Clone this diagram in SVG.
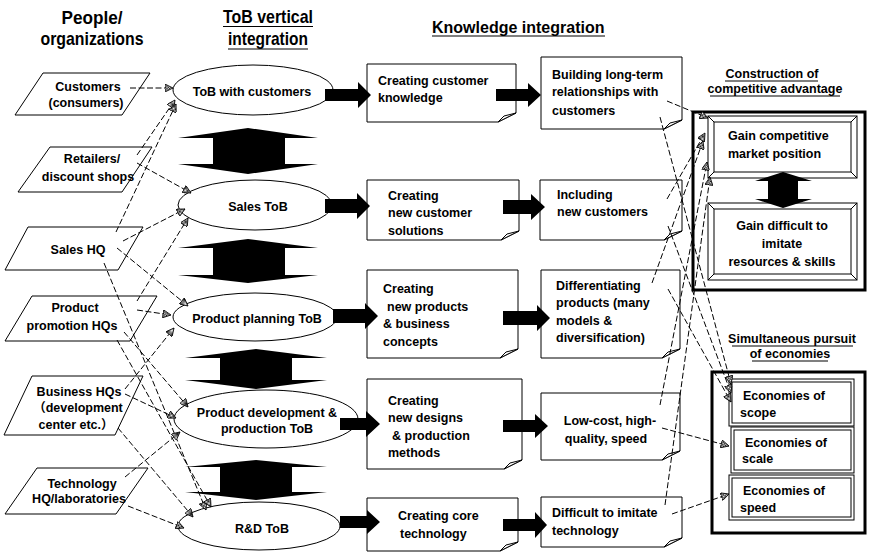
<svg xmlns="http://www.w3.org/2000/svg" width="869" height="552" viewBox="0 0 869 552">
  <defs>
    <style>
      .t { font-family: "Liberation Sans", Arial, "Noto Sans CJK JP", sans-serif; font-weight: bold; font-size: 12.5px; fill: #000; }
      .h { font-size: 19px; }
      .k { font-size: 16px; }
      .m { text-anchor: middle; }
      .shape { fill: #fff; stroke: #000; stroke-width: 1; }
      .note { fill: #fff; stroke: #000; stroke-width: 1; }
      .blk { fill: #000; stroke: none; }
      .frame { fill: #fff; stroke: #000; stroke-width: 3; }
      .ul { stroke: #000; stroke-width: 1.2; }
      .con { fill: none; stroke: #000; stroke-width: 1; stroke-dasharray: 6 2.5; marker-end: url(#ah); }
    </style>
    <pattern id="hatch" width="2" height="2" patternUnits="userSpaceOnUse">
      <rect width="2" height="2" fill="#fff"/>
      <rect width="1" height="1" fill="#000"/>
      <rect x="1" y="1" width="1" height="1" fill="#000"/>
    </pattern>
    <marker id="ah" viewBox="0 0 10 10" refX="10" refY="5" markerWidth="9" markerHeight="8" markerUnits="userSpaceOnUse" orient="auto">
      <path d="M0,0 L10,5 L0,10 Z" fill="url(#hatch)" stroke="#000" stroke-width="1"/>
    </marker>
  </defs>

  <rect width="869" height="552" fill="#fff"/>

  <!-- column headings -->
  <g id="headings">
    <text class="t h m" x="92" y="24" textLength="61" lengthAdjust="spacingAndGlyphs">People/</text>
    <text class="t h m" x="92" y="45" textLength="103" lengthAdjust="spacingAndGlyphs">organizations</text>
    <text class="t h m" x="268" y="23" textLength="90" lengthAdjust="spacingAndGlyphs">ToB vertical</text>
    <line class="ul" x1="223" y1="26.5" x2="313" y2="26.5"/>
    <text class="t h m" x="268" y="45" textLength="80" lengthAdjust="spacingAndGlyphs">integration</text>
    <line class="ul" x1="228" y1="49" x2="308" y2="49"/>
    <text class="t k" x="432" y="33">Knowledge integration</text>
    <line class="ul" x1="432" y1="36" x2="605" y2="36"/>
  </g>

  <!-- people / organizations -->
  <g id="customers">
    <polygon class="shape" points="43,73 150,73 122,115 15,115"/>
    <text class="t m" x="88" y="91">Customers</text>
    <text class="t m" x="86" y="107">(consumers)</text>
  </g>
  <g id="retailers">
    <polygon class="shape" points="50,147 152,147 122,192 18,192"/>
    <text class="t m" x="92" y="163">Retailers/</text>
    <text class="t m" x="88" y="181">discount shops</text>
  </g>
  <g id="sales-hq">
    <polygon class="shape" points="28,227 143,227 118,270 5,270"/>
    <text class="t m" x="78" y="254">Sales HQ</text>
  </g>
  <g id="promotion-hqs">
    <polygon class="shape" points="32,296 157,296 130,341 5,341"/>
    <text class="t m" x="75" y="312">Product</text>
    <text class="t m" x="72" y="330">promotion HQs</text>
  </g>
  <g id="business-hqs">
    <polygon class="shape" points="32,376 143,376 115,435 4,435"/>
    <text class="t m" x="79" y="396">Business HQs</text>
    <text class="t m" x="78" y="412">（development</text>
    <text class="t m" x="76" y="429">center etc.）</text>
  </g>
  <g id="technology-hq">
    <polygon class="shape" points="37,468 148,468 116,514 5,514"/>
    <text class="t m" x="82" y="488">Technology</text>
    <text class="t m" x="79" y="503">HQ/laboratories</text>
  </g>

  <!-- ToB vertical integration -->
  <g id="tob-customers">
    <ellipse class="shape" cx="253" cy="90" rx="80" ry="25"/>
    <text class="t m" x="252" y="96">ToB with customers</text>
  </g>
  <g id="tob-sales">
    <ellipse class="shape" cx="255" cy="205" rx="77" ry="25"/>
    <text class="t m" x="258" y="211">Sales ToB</text>
  </g>
  <g id="tob-planning">
    <ellipse class="shape" cx="255" cy="317" rx="82" ry="24"/>
    <text class="t m" x="257" y="323">Product planning ToB</text>
  </g>
  <g id="tob-development">
    <ellipse class="shape" cx="266" cy="419" rx="92" ry="29"/>
    <text class="t m" x="267" y="417">Product development &amp;</text>
    <text class="t m" x="267" y="433">production ToB</text>
  </g>
  <g id="tob-rd">
    <ellipse class="shape" cx="259" cy="526" rx="81" ry="24"/>
    <text class="t m" x="262" y="533">R&amp;D ToB</text>
  </g>

  <!-- two-way links between the ToB levels -->
  <g id="tob-links">
    <polygon class="blk" points="248,128 318,138 285,138 285,164 318,164 248,174 178,164 213,164 213,138 178,138"/>
    <polygon class="blk" points="248,239 318,248 285,248 285,275 318,275 248,283 178,275 213,275 213,248 178,248"/>
    <polygon class="blk" points="256,349 327,358 292,358 292,380 327,380 256,389 185,380 220,380 220,358 185,358"/>
    <polygon class="blk" points="256,460 327,467 292,467 292,492 327,492 256,500 185,492 220,492 220,467 185,467"/>
  </g>

  <!-- knowledge creation -->
  <g id="k-customer-knowledge">
    <path class="note" d="M367,64 H516 V113 L498,122 H367 Z"/>
    <path class="note" d="M516,113 L504,116 L498,122 Z"/>
    <text class="t" x="378" y="85">Creating customer</text>
    <text class="t" x="378" y="102">knowledge</text>
  </g>
  <g id="k-customer-solutions">
    <path class="note" d="M367,180 H519 V231 L501,240 H367 Z"/>
    <path class="note" d="M519,231 L507,234 L501,240 Z"/>
    <text class="t" x="388" y="200">Creating</text>
    <text class="t" x="388" y="217">new customer</text>
    <text class="t" x="388" y="235">solutions</text>
  </g>
  <g id="k-products">
    <path class="note" d="M367,270 H518 V349 L500,358 H367 Z"/>
    <path class="note" d="M518,349 L506,352 L500,358 Z"/>
    <text class="t" x="383" y="293">Creating</text>
    <text class="t" x="387" y="311">new products</text>
    <text class="t" x="383" y="328">&amp; business</text>
    <text class="t" x="383" y="346">concepts</text>
  </g>
  <g id="k-designs">
    <path class="note" d="M367,379 H522 V460 L504,469 H367 Z"/>
    <path class="note" d="M522,460 L510,463 L504,469 Z"/>
    <text class="t" x="388" y="405">Creating</text>
    <text class="t" x="388" y="422">new designs</text>
    <text class="t" x="392" y="440">&amp; production</text>
    <text class="t" x="388" y="457">methods</text>
  </g>
  <g id="k-core-technology">
    <path class="note" d="M367,498 H518 V542 L500,551 H367 Z"/>
    <path class="note" d="M518,542 L506,545 L500,551 Z"/>
    <text class="t" x="398" y="520">Creating core</text>
    <text class="t" x="400" y="538">technology</text>
  </g>

  <!-- knowledge outcomes -->
  <g id="o-relationships">
    <path class="note" d="M541,57 H682 V120 L664,129 H541 Z"/>
    <path class="note" d="M682,120 L670,123 L664,129 Z"/>
    <text class="t" x="552" y="79">Building long-term</text>
    <text class="t" x="552" y="96">relationships with</text>
    <text class="t" x="552" y="115">customers</text>
  </g>
  <g id="o-new-customers">
    <path class="note" d="M540,180 H682 V231 L664,240 H540 Z"/>
    <path class="note" d="M682,231 L670,234 L664,240 Z"/>
    <text class="t" x="557" y="199">Including</text>
    <text class="t" x="557" y="216">new customers</text>
  </g>
  <g id="o-differentiating">
    <path class="note" d="M541,270 H680 V349 L662,358 H541 Z"/>
    <path class="note" d="M680,349 L668,352 L662,358 Z"/>
    <text class="t" x="556" y="290">Differentiating</text>
    <text class="t" x="556" y="307">products (many</text>
    <text class="t" x="556" y="325">models &amp;</text>
    <text class="t" x="556" y="342">diversification)</text>
  </g>
  <g id="o-low-cost">
    <path class="note" d="M541,393 H680 V451 L662,460 H541 Z"/>
    <path class="note" d="M680,451 L668,454 L662,460 Z"/>
    <text class="t m" x="610" y="425">Low-cost, high-</text>
    <text class="t m" x="606" y="443">quality, speed</text>
  </g>
  <g id="o-hard-technology">
    <path class="note" d="M541,497 H682 V538 L664,547 H541 Z"/>
    <path class="note" d="M682,538 L670,541 L664,547 Z"/>
    <text class="t" x="552" y="517">Difficult to imitate</text>
    <text class="t" x="552" y="535">technology</text>
  </g>

  <!-- flow arrows along each row -->
  <g id="flow-arrows">
    <polygon class="blk" points="325,89 358,89 358,82 371,95 358,108 358,101 325,101"/>
    <polygon class="blk" points="496,89 528,89 528,83 541,95 528,107 528,101 496,101"/>
    <polygon class="blk" points="325,199 357,199 357,193 370,206 357,219 357,213 325,213"/>
    <polygon class="blk" points="503,200 531,200 531,194 545,207 531,220 531,214 503,214"/>
    <polygon class="blk" points="333,309 365,309 365,303 378,316 365,329 365,323 333,323"/>
    <polygon class="blk" points="503,311 537,311 537,305 550,318 537,331 537,325 503,325"/>
    <polygon class="blk" points="340,418 366,418 366,411 380,424 366,437 366,430 340,430"/>
    <polygon class="blk" points="503,420 535,420 535,414 548,426 535,438 535,432 503,432"/>
    <polygon class="blk" points="340,516 367,516 367,510 380,522 367,534 367,528 340,528"/>
    <polygon class="blk" points="503,519 535,519 535,512 547,525 535,538 535,531 503,531"/>
  </g>

  <!-- competitive advantage panel -->
  <g id="advantage-title">
    <text class="t m" x="772" y="78">Construction of</text>
    <line class="ul" x1="725" y1="81" x2="818" y2="81"/>
    <text class="t m" x="775" y="93">competitive advantage</text>
    <line class="ul" x1="710" y1="96" x2="840" y2="96"/>
  </g>
  <g id="advantage-panel">
    <rect class="frame" x="693" y="112" width="172" height="178"/>
  </g>
  <g id="market-position">
    <rect class="shape" x="708" y="116" width="149" height="62"/>
    <rect class="shape" x="714" y="122" width="137" height="50"/>
    <path d="M708,116 L714,122 M857,116 L851,122 M857,178 L851,172 M708,178 L714,172" stroke="#000" stroke-width="1"/>
    <text class="t" x="728" y="140">Gain competitive</text>
    <text class="t" x="728" y="158">market position</text>
  </g>
  <g id="hard-resources">
    <rect class="shape" x="708" y="203" width="149" height="77"/>
    <rect class="shape" x="714" y="209" width="137" height="65"/>
    <path d="M708,203 L714,209 M857,203 L851,209 M857,280 L851,274 M708,280 L714,274" stroke="#000" stroke-width="1"/>
    <text class="t m" x="782" y="230">Gain difficult to</text>
    <text class="t m" x="782" y="248">imitate</text>
    <text class="t m" x="782" y="266">resources &amp; skills</text>
  </g>
  <g id="advantage-link">
    <polygon class="blk" points="783,172 812,181 798,181 798,199 812,199 783,208 755,199 768,199 768,181 755,181"/>
  </g>

  <!-- economies panel -->
  <g id="economies-title">
    <text class="t m" x="792" y="343">Simultaneous pursuit</text>
    <line class="ul" x1="732" y1="346" x2="853" y2="346"/>
    <text class="t m" x="790" y="358">of economies</text>
    <line class="ul" x1="752" y1="361" x2="828" y2="361"/>
  </g>
  <g id="economies-panel">
    <rect class="frame" x="712" y="372" width="153" height="161"/>
  </g>
  <g id="economies-scope">
    <rect class="shape" x="729" y="379" width="125" height="47"/>
    <rect class="shape" x="732" y="382" width="119" height="41"/>
    <text class="t" x="743" y="400">Economies of</text>
    <text class="t" x="740" y="417">scope</text>
  </g>
  <g id="economies-scale">
    <rect class="shape" x="731" y="427" width="123" height="46"/>
    <rect class="shape" x="734" y="430" width="117" height="40"/>
    <text class="t" x="745" y="447">Economies of</text>
    <text class="t" x="742" y="463">scale</text>
  </g>
  <g id="economies-speed">
    <rect class="shape" x="729" y="475" width="125" height="45"/>
    <rect class="shape" x="732" y="478" width="119" height="39"/>
    <text class="t" x="743" y="495">Economies of</text>
    <text class="t" x="740" y="512">speed</text>
  </g>

  <!-- dashed relations -->
  <g id="connectors">
    <line class="con" x1="130" y1="88" x2="173" y2="88"/>
    <line class="con" x1="137" y1="155" x2="175" y2="100"/>
    <line class="con" x1="137" y1="163" x2="191" y2="193"/>
    <line class="con" x1="116" y1="232" x2="176" y2="104"/>
    <line class="con" x1="123" y1="241" x2="185" y2="209"/>
    <line class="con" x1="117" y1="248" x2="188" y2="306"/>
    <line class="con" x1="104" y1="263" x2="206" y2="510"/>
    <line class="con" x1="137" y1="301" x2="188" y2="218"/>
    <line class="con" x1="137" y1="310" x2="171" y2="315"/>
    <line class="con" x1="124" y1="332" x2="188" y2="407"/>
    <line class="con" x1="117" y1="340" x2="211" y2="507"/>
    <line class="con" x1="125" y1="389" x2="174" y2="328"/>
    <line class="con" x1="125" y1="394" x2="176" y2="418"/>
    <line class="con" x1="118" y1="428" x2="193" y2="517"/>
    <line class="con" x1="125" y1="477" x2="180" y2="432"/>
    <line class="con" x1="128" y1="506" x2="184" y2="528"/>

    <line class="con" x1="667" y1="101" x2="708" y2="118"/>
    <line class="con" x1="667" y1="199" x2="705" y2="133"/>
    <line class="con" x1="652" y1="283" x2="703" y2="141"/>
    <line class="con" x1="660" y1="405" x2="707" y2="162"/>
    <line class="con" x1="665" y1="505" x2="710" y2="177"/>
    <line class="con" x1="660" y1="117" x2="731" y2="384"/>
    <line class="con" x1="668" y1="226" x2="731" y2="393"/>
    <line class="con" x1="668" y1="289" x2="731" y2="402"/>
    <line class="con" x1="662" y1="428" x2="729" y2="446"/>
    <line class="con" x1="672" y1="514" x2="729" y2="494"/>
  </g>
</svg>
